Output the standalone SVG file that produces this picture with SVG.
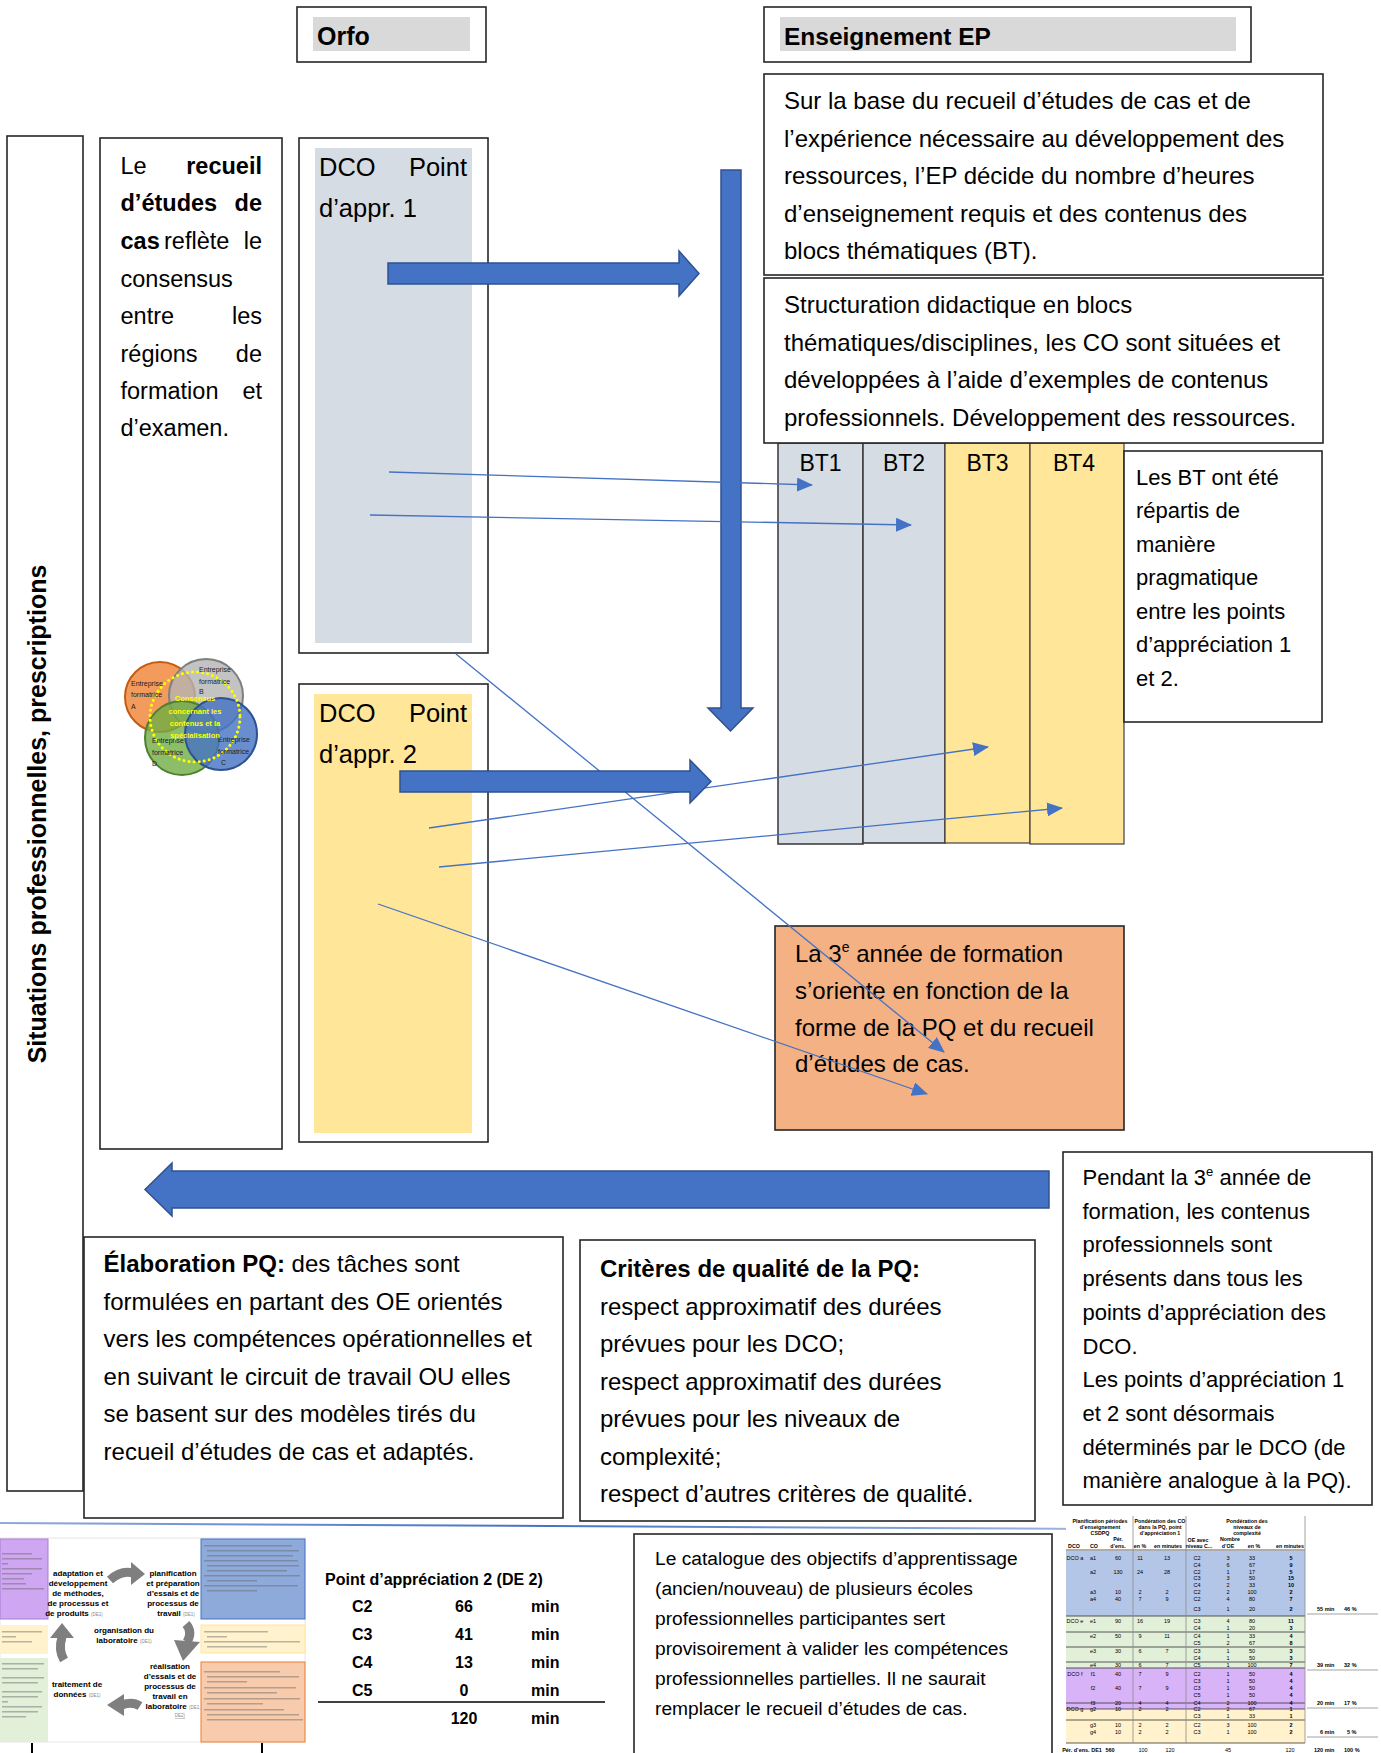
<svg xmlns="http://www.w3.org/2000/svg" width="1381" height="1753" viewBox="0 0 1381 1753">
<defs>
<style>
text{font-family:"Liberation Sans",Arial,sans-serif;fill:#000}
.box{fill:#fff;stroke:#262626;stroke-width:1.6}
.t24{font-size:24px}
.t22{font-size:22px}
.t23{font-size:23.5px}
.t25{font-size:25.5px}
.b{font-weight:bold}
.big{fill:#4472c4;stroke:#2f528f;stroke-width:1.5}
.thin{fill:none;stroke:#4472c4;stroke-width:1.3;marker-end:url(#ah)}
.ph{fill:#666;opacity:.45}
.tb{font-size:5.5px;fill:#333}
.tbh{font-size:5.3px;font-weight:bold;fill:#333}
.cyc{font-size:8px;font-weight:bold;text-anchor:middle}
.sm{font-size:4.5px;fill:#888;font-weight:normal}
.venn{font-size:7px;fill:#222}
.vy{font-size:7.5px;fill:#ffff00;text-anchor:middle;font-weight:bold}
.ga{fill:#7f7f7f}
.gal{fill:none;stroke:#7f7f7f;stroke-width:9}
</style>
<marker id="ah" markerWidth="16" markerHeight="14" refX="15" refY="7" orient="auto" markerUnits="userSpaceOnUse">
<path d="M0,0 L16,7 L0,14 z" fill="#4472c4"/>
</marker>
<linearGradient id="lg" x1="0" x2="1" y1="0" y2="0">
<stop offset="0" stop-color="#8fa9dc"/>
<stop offset="0.5" stop-color="#4472c4"/>
<stop offset="1" stop-color="#9fb5e0"/>
</linearGradient>
</defs>
<rect width="1381" height="1753" fill="#fff"/>

<g id="orfo">
<rect class="box" x="297" y="7" width="189" height="55"/>
<rect x="313" y="17" width="157" height="34" fill="#d9d9d9"/>
<text x="317" y="45" font-size="25" class="b">Orfo</text>
</g>

<g id="enseignement">
<rect class="box" x="764" y="7" width="487" height="55"/>
<rect x="780" y="17" width="456" height="34" fill="#d9d9d9"/>
<text x="784" y="45" font-size="24.5" class="b">Enseignement EP</text>
</g>

<g id="situations">
<rect class="box" x="7" y="136" width="76" height="1355"/>
<text transform="translate(46,814) rotate(-90)" text-anchor="middle" font-size="25" class="b">Situations professionnelles, prescriptions</text>
</g>

<g id="recueil">
<rect class="box" x="100" y="138" width="182" height="1011"/>
<g class="t23">
<text x="120.5" y="174">Le</text><text x="262" y="174" text-anchor="end" class="b">recueil</text>
<text x="120.5" y="211" class="b">d’études</text><text x="262" y="211" text-anchor="end" class="b">de</text>
<text x="120.5" y="249" class="b">cas</text><text x="164" y="249">reflète</text><text x="262" y="249" text-anchor="end">le</text>
<text x="120.5" y="287">consensus</text>
<text x="120.5" y="324">entre</text><text x="262" y="324" text-anchor="end">les</text>
<text x="120.5" y="362">régions</text><text x="262" y="362" text-anchor="end">de</text>
<text x="120.5" y="399">formation</text><text x="262" y="399" text-anchor="end">et</text>
<text x="120.5" y="436">d’examen.</text>
</g>
</g>

<g id="venn">
<circle cx="160" cy="697" r="35" fill="#f29b5c" stroke="#c55a11" stroke-width="2"/>
<circle cx="206" cy="696" r="37" fill="#b4b4b4" fill-opacity="0.8" stroke="#7f7f7f" stroke-width="2"/>
<circle cx="182" cy="738" r="37" fill="#6fae45" fill-opacity="0.8" stroke="#4f7f30" stroke-width="2"/>
<circle cx="221" cy="734" r="36" fill="#4472c4" fill-opacity="0.8" stroke="#2f528f" stroke-width="2"/>
<circle cx="195" cy="717" r="45" fill="none" stroke="#ffff00" stroke-width="3" stroke-dasharray="0.1 5" stroke-linecap="round"/>
<text class="venn" x="131" y="686">Entreprise</text><text class="venn" x="131" y="697">formatrice</text><text class="venn" x="131" y="709">A</text>
<text class="venn" x="199" y="672">Entreprise</text><text class="venn" x="199" y="684">formatrice</text><text class="venn" x="199" y="694">B</text>
<text class="venn" x="152" y="743">Entreprise</text><text class="venn" x="152" y="755">formatrice</text><text class="venn" x="152" y="766">D</text>
<text class="venn" x="218" y="742">Entreprise</text><text class="venn" x="218" y="754">formatrice</text><text class="venn" x="221" y="765">C</text>
<text class="vy" x="195" y="701">Consensus</text>
<text class="vy" x="195" y="714">concernant les</text>
<text class="vy" x="195" y="726">contenus et la</text>
<text class="vy" x="195" y="738">spécialisation</text>
</g>

<g id="dco1">
<rect class="box" x="299" y="138" width="189" height="515"/>
<rect x="315" y="148" width="157" height="495" fill="#d6dce4"/>
<text class="t25" x="319" y="176">DCO</text><text class="t25" x="467" y="176" text-anchor="end">Point</text>
<text class="t25" x="319" y="217">d’appr. 1</text>
</g>

<g id="dco2">
<rect class="box" x="299" y="684" width="189" height="458"/>
<rect x="314" y="694" width="158" height="439" fill="#ffe699"/>
<text class="t25" x="319" y="722">DCO</text><text class="t25" x="467" y="722" text-anchor="end">Point</text>
<text class="t25" x="319" y="762.5">d’appr. 2</text>
</g>

<g id="bt">
<rect x="778" y="443" width="85" height="401" fill="#d6dce4" stroke="#404040" stroke-width="1.6"/>
<rect x="863" y="443" width="82" height="400" fill="#d6dce4" stroke="#404040" stroke-width="1.6"/>
<rect x="945" y="443" width="85" height="400" fill="#ffe699" stroke="#404040" stroke-width="1.2"/>
<rect x="1030" y="443" width="94" height="401" fill="#ffe699" stroke="#404040" stroke-width="1.2"/>
<text x="820.5" y="471" font-size="23" text-anchor="middle">BT1</text>
<text x="904" y="471" font-size="23" text-anchor="middle">BT2</text>
<text x="987.5" y="471" font-size="23" text-anchor="middle">BT3</text>
<text x="1074" y="471" font-size="23" text-anchor="middle">BT4</text>
</g>

<g id="box-base">
<rect class="box" x="764" y="74" width="559" height="201"/>
<g class="t24">
<text x="784" y="109">Sur la base du recueil d’études de cas et de</text>
<text x="784" y="147">l’expérience nécessaire au développement des</text>
<text x="784" y="184">ressources, l’EP décide du nombre d’heures</text>
<text x="784" y="222">d’enseignement requis et des contenus des</text>
<text x="784" y="259">blocs thématiques (BT).</text>
</g>
</g>

<g id="box-structuration">
<rect class="box" x="764" y="278" width="559" height="165"/>
<g class="t24">
<text x="784" y="313">Structuration didactique en blocs</text>
<text x="784" y="351">thématiques/disciplines, les CO sont situées et</text>
<text x="784" y="388">développées à l’aide d’exemples de contenus</text>
<text x="784" y="426">professionnels. Développement des ressources.</text>
</g>
</g>

<g id="box-bt-note">
<rect class="box" x="1124" y="451" width="198" height="271"/>
<g class="t22">
<text x="1136" y="485">Les BT ont été</text>
<text x="1136" y="518">répartis de</text>
<text x="1136" y="552">manière</text>
<text x="1136" y="585">pragmatique</text>
<text x="1136" y="619">entre les points</text>
<text x="1136" y="652">d’appréciation 1</text>
<text x="1136" y="686">et 2.</text>
</g>
</g>

<g id="box-3e">
<rect x="775" y="926" width="349" height="204" fill="#f4b183" stroke="#262626" stroke-width="1.6"/>
<g class="t24">
<text x="795" y="962">La 3<tspan font-size="14" dy="-10">e</tspan><tspan dy="10"> année de formation</tspan></text>
<text x="795" y="999">s’oriente en fonction de la</text>
<text x="795" y="1035.5">forme de la PQ et du recueil</text>
<text x="795" y="1072">d’études de cas.</text>
</g>
</g>

<g id="box-pendant">
<rect class="box" x="1063" y="1152" width="309" height="353"/>
<g class="t22">
<text x="1082.5" y="1185">Pendant la 3<tspan font-size="13" dy="-9">e</tspan><tspan dy="9"> année de</tspan></text>
<text x="1082.5" y="1218.7">formation, les contenus</text>
<text x="1082.5" y="1252.4">professionnels sont</text>
<text x="1082.5" y="1286.1">présents dans tous les</text>
<text x="1082.5" y="1319.8">points d’appréciation des</text>
<text x="1082.5" y="1353.5">DCO.</text>
<text x="1082.5" y="1387.2">Les points d’appréciation 1</text>
<text x="1082.5" y="1420.9">et 2 sont désormais</text>
<text x="1082.5" y="1454.6">déterminés par le DCO (de</text>
<text x="1082.5" y="1488.3">manière analogue à la PQ).</text>
</g>
</g>

<g id="box-elaboration">
<rect class="box" x="84" y="1237" width="479" height="281"/>
<g class="t24">
<text x="103.6" y="1272"><tspan class="b">Élaboration PQ:</tspan> des tâches sont</text>
<text x="103.6" y="1309.5">formulées en partant des OE orientés</text>
<text x="103.6" y="1347">vers les compétences opérationnelles et</text>
<text x="103.6" y="1384.5">en suivant le circuit de travail OU elles</text>
<text x="103.6" y="1422">se basent sur des modèles tirés du</text>
<text x="103.6" y="1459.5">recueil d’études de cas et adaptés.</text>
</g>
</g>

<g id="box-criteres">
<rect class="box" x="580" y="1240" width="455" height="281"/>
<g class="t24">
<text x="600" y="1277" class="b">Critères de qualité de la PQ:</text>
<text x="600" y="1314.5">respect approximatif des durées</text>
<text x="600" y="1352">prévues pour les DCO;</text>
<text x="600" y="1389.5">respect approximatif des durées</text>
<text x="600" y="1427">prévues pour les niveaux de</text>
<text x="600" y="1464.5">complexité;</text>
<text x="600" y="1502">respect d’autres critères de qualité.</text>
</g>
</g>

<line x1="0" y1="1523" x2="1090" y2="1529" stroke="url(#lg)" stroke-width="2"/>

<g id="cycle-image">
<rect x="0" y="1538" width="305" height="204" fill="#fff" stroke="#e6e6e6" stroke-width="1"/>
<rect x="0" y="1539" width="48" height="80" fill="#cfa6f2" stroke="#a77fd0" stroke-width="1"/>
<rect x="0" y="1625" width="48" height="29" fill="#fff2cc"/>
<rect x="0" y="1658" width="48" height="84" fill="#e2efd9"/>
<rect x="201" y="1539" width="104" height="80" fill="#8eaadb" stroke="#4472c4" stroke-width="1"/>
<rect x="201" y="1625" width="104" height="28" fill="#fff2cc" stroke="#ffe699" stroke-width="1"/>
<rect x="201" y="1662" width="104" height="80" fill="#f8cbad" stroke="#ed7d31" stroke-width="1"/>
<g class="ph">
<rect x="2" y="1553" width="30" height="1.5"/><rect x="2" y="1558" width="40" height="1.5"/><rect x="2" y="1563" width="6" height="1.5"/>
<rect x="2" y="1568" width="40" height="1.5"/><rect x="2" y="1573" width="30" height="1.5"/><rect x="2" y="1578" width="22" height="1.5"/>
<rect x="2" y="1583" width="24" height="1.5"/><rect x="2" y="1588" width="42" height="1.5"/>
<rect x="2" y="1631" width="40" height="1.5"/><rect x="2" y="1636" width="14" height="1.5"/><rect x="2" y="1641" width="30" height="1.5"/>
<rect x="2" y="1663" width="42" height="1.5"/><rect x="2" y="1668" width="36" height="1.5"/><rect x="2" y="1677" width="42" height="1.5"/>
<rect x="2" y="1682" width="36" height="1.5"/><rect x="2" y="1691" width="40" height="1.5"/><rect x="2" y="1696" width="36" height="1.5"/>
<rect x="2" y="1701" width="6" height="1.5"/><rect x="2" y="1706" width="40" height="1.5"/><rect x="2" y="1711" width="36" height="1.5"/><rect x="2" y="1716" width="24" height="1.5"/>
<rect x="204" y="1545" width="88" height="1.5"/><rect x="207" y="1550" width="92" height="1.5"/><rect x="207" y="1555" width="86" height="1.5"/>
<rect x="204" y="1560" width="94" height="1.5"/><rect x="207" y="1565" width="92" height="1.5"/><rect x="207" y="1570" width="80" height="1.5"/>
<rect x="204" y="1575" width="96" height="1.5"/><rect x="207" y="1580" width="50" height="1.5"/><rect x="204" y="1585" width="94" height="1.5"/><rect x="207" y="1590" width="50" height="1.5"/>
<rect x="204" y="1631" width="64" height="1.5"/><rect x="207" y="1636" width="20" height="1.5"/><rect x="204" y="1641" width="96" height="1.5"/><rect x="207" y="1646" width="60" height="1.5"/>
<rect x="204" y="1671" width="76" height="1.5"/><rect x="207" y="1676" width="92" height="1.5"/><rect x="207" y="1681" width="40" height="1.5"/>
<rect x="204" y="1687" width="92" height="1.5"/><rect x="207" y="1692" width="70" height="1.5"/><rect x="204" y="1698" width="96" height="1.5"/>
<rect x="207" y="1703" width="56" height="1.5"/><rect x="204" y="1709" width="80" height="1.5"/><rect x="207" y="1714" width="92" height="1.5"/><rect x="207" y="1719" width="96" height="1.5"/>
</g>
<g class="cyc">
<text x="78" y="1576" fill="#7030a0">adaptation et</text>
<text x="78" y="1586" fill="#7030a0">développement</text>
<text x="78" y="1596" fill="#7030a0">de méthodes,</text>
<text x="78" y="1606" fill="#7030a0">de processus et</text>
<text x="74" y="1616" fill="#7030a0">de produits <tspan class="sm">(DE1)</tspan></text>
<text x="173" y="1576" fill="#4472c4">planification</text>
<text x="173" y="1586" fill="#4472c4">et préparation</text>
<text x="173" y="1596" fill="#4472c4">d’essais et de</text>
<text x="173" y="1606" fill="#4472c4">processus de</text>
<text x="176" y="1616" fill="#4472c4">travail <tspan class="sm">(DE1)</tspan></text>
<text x="124" y="1633" fill="#ffc000">organisation du</text>
<text x="124" y="1643" fill="#ffc000">laboratoire <tspan class="sm">(DE1)</tspan></text>
<text x="170" y="1669" fill="#ed7d31">réalisation</text>
<text x="170" y="1679" fill="#ed7d31">d’essais et de</text>
<text x="170" y="1689" fill="#ed7d31">processus de</text>
<text x="170" y="1699" fill="#ed7d31">travail en</text>
<text x="173" y="1709" fill="#ed7d31">laboratoire <tspan class="sm">(DE1,</tspan></text>
<text x="180" y="1717" class="sm" fill="#c00000" text-decoration="underline">DE2)</text>
<text x="77" y="1687" fill="#70ad47">traitement de</text>
<text x="77" y="1697" fill="#70ad47">données <tspan class="sm">(DE1)</tspan></text>
</g>
<path class="gal" d="M110,1580 Q121,1570 133,1573"/>
<polygon class="ga" points="131,1562 145,1574 131,1585"/>
<path class="gal" d="M186,1624 Q193,1632 187,1642"/>
<polygon class="ga" points="174,1640 200,1642 183,1661"/>
<path class="gal" d="M140,1706 Q132,1701 122,1705"/>
<polygon class="ga" points="124,1694 107,1705 124,1716"/>
<path class="gal" d="M64,1660 Q58,1650 62,1637"/>
<polygon class="ga" points="50,1638 62,1623 74,1638"/>
</g>
<line x1="32" y1="1743" x2="32" y2="1753" stroke="#000" stroke-width="2"/>
<line x1="262" y1="1743" x2="262" y2="1753" stroke="#000" stroke-width="2"/>

<g id="point-appr-2">
<text x="325" y="1585" font-size="16" class="b">Point d’appréciation 2 (DE 2)</text>
<g font-size="16" font-weight="bold">
<text x="352" y="1612">C2</text><text x="464" y="1612" text-anchor="middle">66</text><text x="531" y="1612">min</text>
<text x="352" y="1640">C3</text><text x="464" y="1640" text-anchor="middle">41</text><text x="531" y="1640">min</text>
<text x="352" y="1668">C4</text><text x="464" y="1668" text-anchor="middle">13</text><text x="531" y="1668">min</text>
<text x="352" y="1696">C5</text><text x="464" y="1696" text-anchor="middle">0</text><text x="531" y="1696">min</text>
<text x="464" y="1724" text-anchor="middle">120</text><text x="531" y="1724">min</text>
</g>
<line x1="318" y1="1702" x2="605" y2="1702" stroke="#404040" stroke-width="2"/>
</g>

<g id="catalogue">
<rect class="box" x="634" y="1534" width="418" height="230"/>
<g font-size="19.2">
<text x="655" y="1565">Le catalogue des objectifs d’apprentissage</text>
<text x="655" y="1595">(ancien/nouveau) de plusieurs écoles</text>
<text x="655" y="1625">professionnelles participantes sert</text>
<text x="655" y="1655">provisoirement à valider les compétences</text>
<text x="655" y="1685">professionnelles partielles. Il ne saurait</text>
<text x="655" y="1715">remplacer le recueil d’études de cas.</text>
</g>
</g>

<g id="table-image">
<rect x="1066" y="1516" width="315" height="237" fill="#fff"/>
<rect x="1066" y="1551" width="239" height="65" fill="#b4c6e7"/>
<rect x="1066" y="1616" width="239" height="52" fill="#e2efd9"/>
<rect x="1066" y="1668" width="239" height="41" fill="#d9b3f7"/>
<rect x="1066" y="1709" width="239" height="34" fill="#fff2cc"/>
<g stroke="#333" stroke-width="0.8">
<line x1="1066" y1="1550" x2="1305" y2="1550"/>
<line x1="1066" y1="1616" x2="1305" y2="1616"/>
<line x1="1066" y1="1632" x2="1305" y2="1632"/>
<line x1="1066" y1="1647" x2="1305" y2="1647"/>
<line x1="1066" y1="1662" x2="1305" y2="1662"/>
<line x1="1066" y1="1668" x2="1305" y2="1668"/>
<line x1="1066" y1="1703" x2="1305" y2="1703"/>
<line x1="1066" y1="1709" x2="1305" y2="1709"/>
<line x1="1066" y1="1720" x2="1305" y2="1720"/>
<line x1="1066" y1="1743" x2="1305" y2="1743"/>
</g>
<g stroke="#8c8c8c" stroke-width="0.8">
<line x1="1133" y1="1516" x2="1133" y2="1743"/>
<line x1="1186" y1="1516" x2="1186" y2="1743"/>
<line x1="1305" y1="1516" x2="1305" y2="1743"/>
<line x1="1307" y1="1614" x2="1378" y2="1614"/>
<line x1="1307" y1="1670" x2="1378" y2="1670"/>
<line x1="1307" y1="1708" x2="1378" y2="1708"/>
<line x1="1307" y1="1737" x2="1378" y2="1737"/>
</g>
<g class="tbh" text-anchor="middle">
<text x="1100" y="1523">Planification périodes</text><text x="1100" y="1529">d’enseignement</text><text x="1100" y="1535">CSDPQ</text>
<text x="1118" y="1541">Pér.</text>
<text x="1160" y="1523">Pondération des CO</text><text x="1160" y="1529">dans la PQ, point</text><text x="1160" y="1535">d’appréciation 1</text>
<text x="1247" y="1523">Pondération des</text><text x="1247" y="1529">niveaux de</text><text x="1247" y="1535">complexité</text>
<text x="1198" y="1542">OE avec</text><text x="1230" y="1541">Nombre</text>
<text x="1074" y="1548">DCO</text><text x="1094" y="1548">CO</text><text x="1118" y="1548">d’ens.</text><text x="1140" y="1548">en %</text><text x="1168" y="1548">en minutes</text>
<text x="1199" y="1548">niveau C...</text><text x="1228" y="1548">d’OE</text><text x="1254" y="1548">en %</text><text x="1290" y="1548">en minutes</text>
</g>
<g class="tb" text-anchor="middle">
<text x="1075" y="1560">DCO a</text><text x="1093" y="1560">a1</text><text x="1118" y="1560">60</text><text x="1140" y="1560">11</text><text x="1167" y="1560">13</text><text x="1197" y="1560">C2</text><text x="1228" y="1560">3</text><text x="1252" y="1560">33</text><text x="1291" y="1560" font-weight="bold">5</text>
<text x="1197" y="1567">C4</text><text x="1228" y="1567">6</text><text x="1252" y="1567">67</text><text x="1291" y="1567" font-weight="bold">9</text>
<text x="1093" y="1574">a2</text><text x="1118" y="1574">130</text><text x="1140" y="1574">24</text><text x="1167" y="1574">28</text><text x="1197" y="1574">C2</text><text x="1228" y="1574">1</text><text x="1252" y="1574">17</text><text x="1291" y="1574" font-weight="bold">5</text>
<text x="1197" y="1580">C3</text><text x="1228" y="1580">3</text><text x="1252" y="1580">50</text><text x="1291" y="1580" font-weight="bold">15</text>
<text x="1197" y="1587">C4</text><text x="1228" y="1587">2</text><text x="1252" y="1587">33</text><text x="1291" y="1587" font-weight="bold">10</text>
<text x="1093" y="1594">a3</text><text x="1118" y="1594">10</text><text x="1140" y="1594">2</text><text x="1167" y="1594">2</text><text x="1197" y="1594">C2</text><text x="1228" y="1594">2</text><text x="1252" y="1594">100</text><text x="1291" y="1594" font-weight="bold">2</text>
<text x="1093" y="1601">a4</text><text x="1118" y="1601">40</text><text x="1140" y="1601">7</text><text x="1167" y="1601">9</text><text x="1197" y="1601">C2</text><text x="1228" y="1601">4</text><text x="1252" y="1601">80</text><text x="1291" y="1601" font-weight="bold">7</text>
<text x="1197" y="1611">C3</text><text x="1228" y="1611">1</text><text x="1252" y="1611">20</text><text x="1291" y="1611" font-weight="bold">2</text>
<text x="1075" y="1623">DCO e</text><text x="1093" y="1623">e1</text><text x="1118" y="1623">90</text><text x="1140" y="1623">16</text><text x="1167" y="1623">19</text><text x="1197" y="1623">C3</text><text x="1228" y="1623">4</text><text x="1252" y="1623">80</text><text x="1291" y="1623" font-weight="bold">11</text>
<text x="1197" y="1630">C4</text><text x="1228" y="1630">1</text><text x="1252" y="1630">20</text><text x="1291" y="1630" font-weight="bold">3</text>
<text x="1093" y="1638">e2</text><text x="1118" y="1638">50</text><text x="1140" y="1638">9</text><text x="1167" y="1638">11</text><text x="1197" y="1638">C4</text><text x="1228" y="1638">1</text><text x="1252" y="1638">33</text><text x="1291" y="1638" font-weight="bold">4</text>
<text x="1197" y="1645">C5</text><text x="1228" y="1645">2</text><text x="1252" y="1645">67</text><text x="1291" y="1645" font-weight="bold">8</text>
<text x="1093" y="1653">e3</text><text x="1118" y="1653">30</text><text x="1140" y="1653">6</text><text x="1167" y="1653">7</text><text x="1197" y="1653">C3</text><text x="1228" y="1653">1</text><text x="1252" y="1653">50</text><text x="1291" y="1653" font-weight="bold">3</text>
<text x="1197" y="1660">C4</text><text x="1228" y="1660">1</text><text x="1252" y="1660">50</text><text x="1291" y="1660" font-weight="bold">3</text>
<text x="1093" y="1667">e4</text><text x="1118" y="1667">30</text><text x="1140" y="1667">6</text><text x="1167" y="1667">7</text><text x="1197" y="1667">C5</text><text x="1228" y="1667">1</text><text x="1252" y="1667">100</text><text x="1291" y="1667" font-weight="bold">7</text>
<text x="1075" y="1676">DCO f</text><text x="1093" y="1676">f1</text><text x="1118" y="1676">40</text><text x="1140" y="1676">7</text><text x="1167" y="1676">9</text><text x="1197" y="1676">C2</text><text x="1228" y="1676">1</text><text x="1252" y="1676">50</text><text x="1291" y="1676" font-weight="bold">4</text>
<text x="1197" y="1683">C3</text><text x="1228" y="1683">1</text><text x="1252" y="1683">50</text><text x="1291" y="1683" font-weight="bold">4</text>
<text x="1093" y="1690">f2</text><text x="1118" y="1690">40</text><text x="1140" y="1690">7</text><text x="1167" y="1690">9</text><text x="1197" y="1690">C3</text><text x="1228" y="1690">1</text><text x="1252" y="1690">50</text><text x="1291" y="1690" font-weight="bold">4</text>
<text x="1197" y="1697">C5</text><text x="1228" y="1697">1</text><text x="1252" y="1697">50</text><text x="1291" y="1697" font-weight="bold">4</text>
<text x="1093" y="1705">f3</text><text x="1118" y="1705">20</text><text x="1140" y="1705">4</text><text x="1167" y="1705">4</text><text x="1197" y="1705">C4</text><text x="1228" y="1705">2</text><text x="1252" y="1705">100</text><text x="1291" y="1705" font-weight="bold">4</text>
<text x="1075" y="1711">DCO g</text><text x="1093" y="1711">g2</text><text x="1118" y="1711">10</text><text x="1140" y="1711">2</text><text x="1167" y="1711">2</text><text x="1197" y="1711">C2</text><text x="1228" y="1711">2</text><text x="1252" y="1711">67</text><text x="1291" y="1711" font-weight="bold">1</text>
<text x="1197" y="1718">C3</text><text x="1228" y="1718">1</text><text x="1252" y="1718">33</text><text x="1291" y="1718" font-weight="bold">1</text>
<text x="1093" y="1727">g3</text><text x="1118" y="1727">10</text><text x="1140" y="1727">2</text><text x="1167" y="1727">2</text><text x="1197" y="1727">C2</text><text x="1228" y="1727">3</text><text x="1252" y="1727">100</text><text x="1291" y="1727" font-weight="bold">2</text>
<text x="1093" y="1734">g4</text><text x="1118" y="1734">10</text><text x="1140" y="1734">2</text><text x="1167" y="1734">2</text><text x="1197" y="1734">C3</text><text x="1228" y="1734">1</text><text x="1252" y="1734">100</text><text x="1291" y="1734" font-weight="bold">2</text>
<text x="1082" y="1752" font-weight="bold">Pér. d’ens. DE1</text><text x="1110" y="1752" font-weight="bold">560</text><text x="1143" y="1752">100</text><text x="1170" y="1752">120</text><text x="1228" y="1752">45</text><text x="1290" y="1752">120</text>
</g>
<g class="tb" font-weight="bold">
<text x="1317" y="1611">55 min</text><text x="1344" y="1611">46 %</text>
<text x="1317" y="1667">39 min</text><text x="1344" y="1667">32 %</text>
<text x="1317" y="1705">20 min</text><text x="1344" y="1705">17 %</text>
<text x="1320" y="1734">6 min</text><text x="1347" y="1734">5 %</text>
<text x="1314" y="1752">120 min</text><text x="1344" y="1752">100 %</text>
</g>
</g>

<g id="connectors">
<polygon id="arrow-down" class="big" points="721,170 741,170 741,708 753,708 730.5,731 708,708 721,708"/>
<line class="thin" x1="389" y1="472" x2="812" y2="485"/>
<line class="thin" x1="370" y1="515" x2="911" y2="525"/>
<line class="thin" x1="429" y1="828" x2="988" y2="747"/>
<line class="thin" x1="439" y1="867" x2="1062" y2="808"/>
<line class="thin" x1="378" y1="904" x2="927" y2="1094"/>
<line class="thin" x1="456" y1="654" x2="944" y2="1052"/>
<polygon id="arrow-dco1" class="big" points="388,263 679,263 679,251 699,273.5 679,296 679,284 388,284"/>
<polygon id="arrow-dco2" class="big" points="400,771 690,771 690,760 711,781.5 690,803 690,792 400,792"/>
<polygon id="arrow-left" class="big" points="1049,1171 172,1171 172,1163 145,1189.5 172,1216 172,1208 1049,1208"/>
</g>
</svg>
